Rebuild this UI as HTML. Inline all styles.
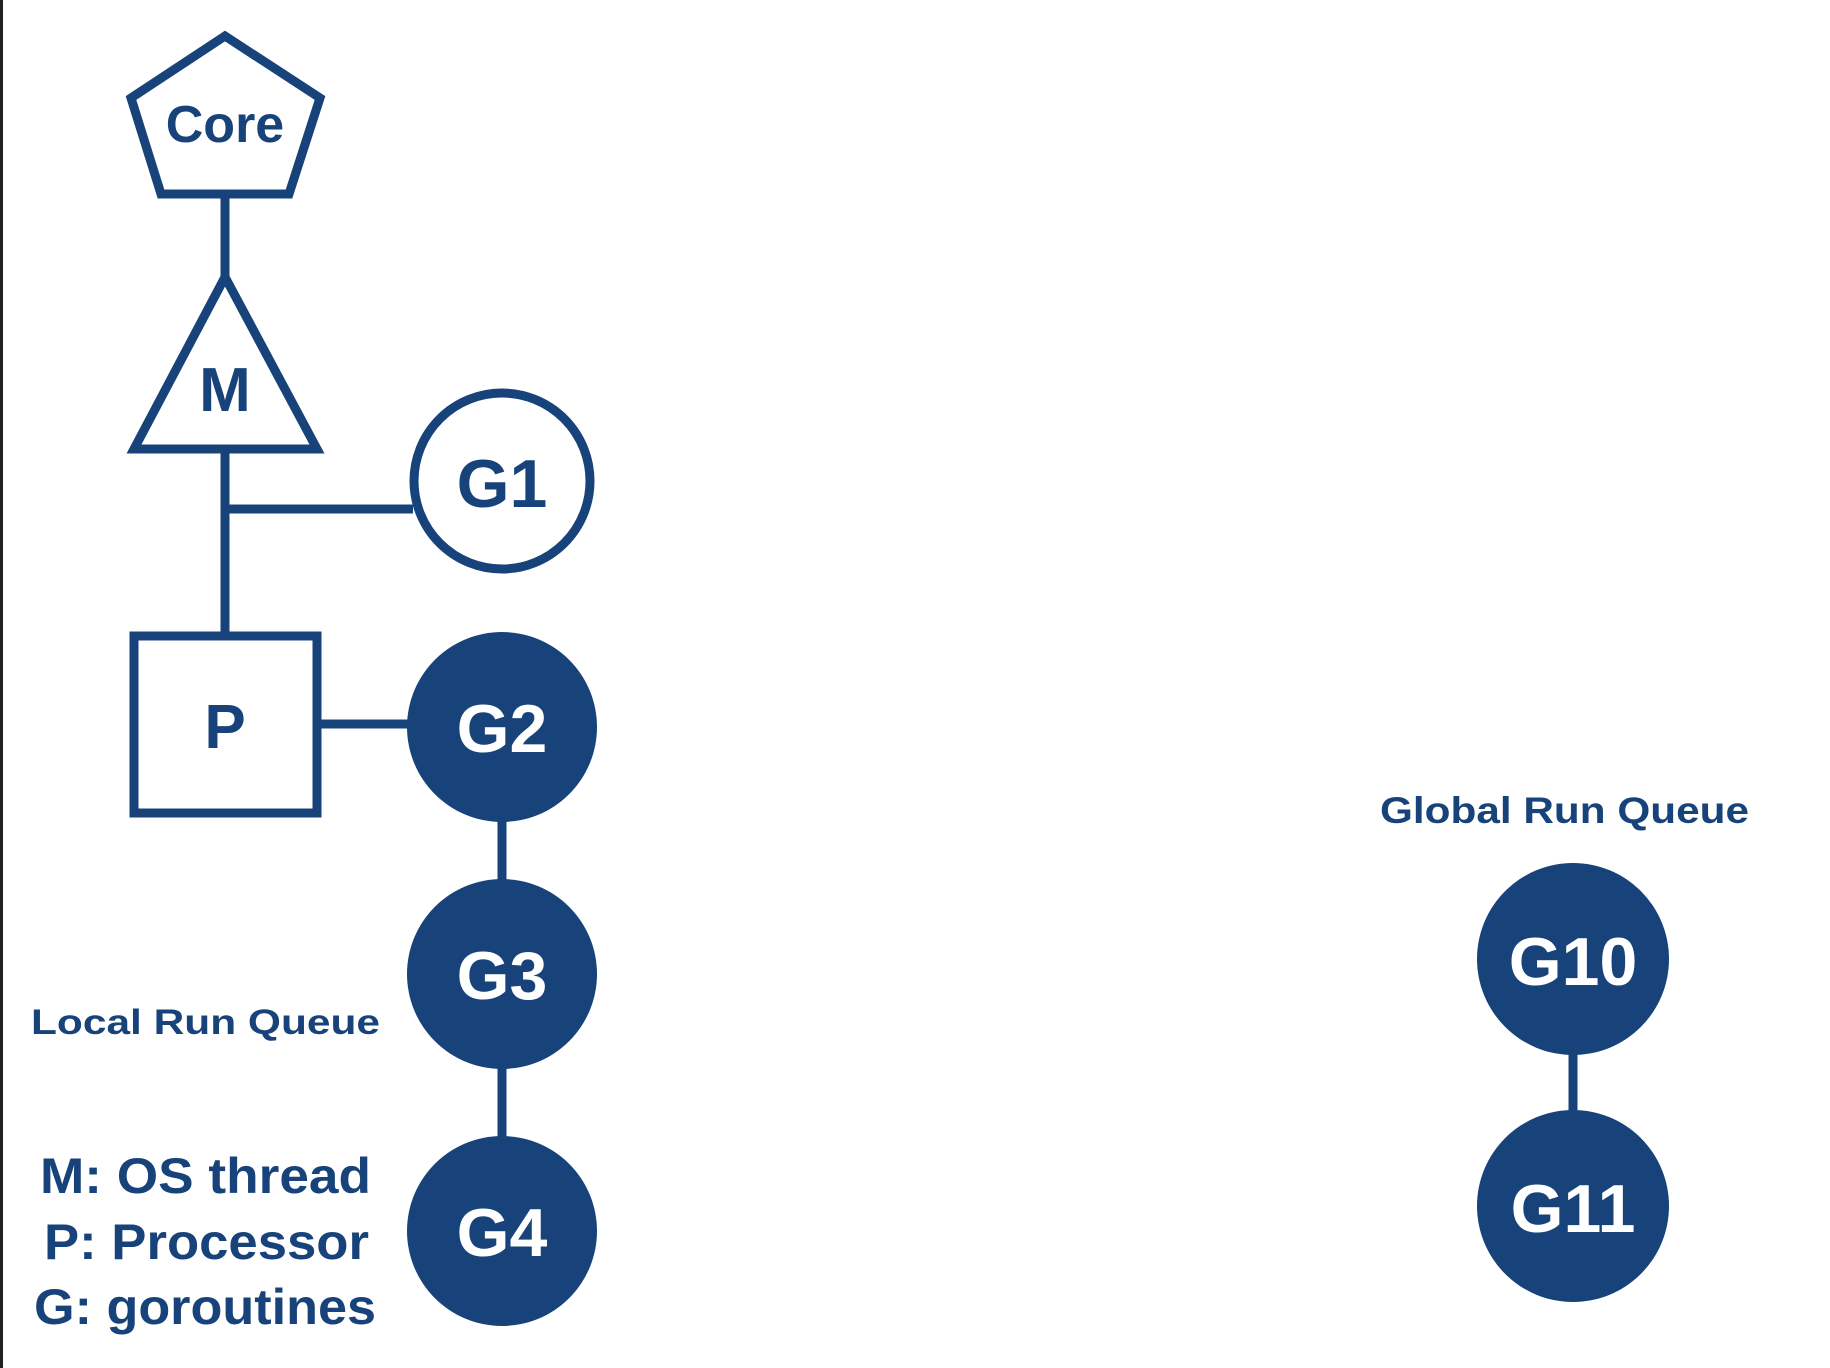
<!DOCTYPE html>
<html><head><style>
html,body{margin:0;padding:0;background:#fff;}
svg{display:block;}
text{font-family:"Liberation Sans",Arial,sans-serif;font-weight:bold;}
</style></head><body>
<svg width="1830" height="1368" viewBox="0 0 1830 1368" xmlns="http://www.w3.org/2000/svg">
<rect x="0" y="0" width="1830" height="1368" fill="#fff"/>
<rect x="0" y="0" width="3" height="1368" fill="#222"/>
<g stroke="#17437a" stroke-width="9" fill="none">
  <polygon points="225,36 131,98 161,194 289,194 320,98" stroke-linejoin="miter"/>
  <line x1="225" y1="194" x2="225" y2="276"/>
  <polygon points="225,277 134,449 317,449"/>
  <line x1="225" y1="449" x2="225" y2="636"/>
  <line x1="225" y1="509" x2="413" y2="509"/>
  <circle cx="502" cy="481" r="88"/>
  <rect x="134" y="636" width="183" height="177"/>
  <line x1="317" y1="724" x2="412" y2="724"/>
  <line x1="502" y1="800" x2="502" y2="900"/>
  <line x1="502" y1="1050" x2="502" y2="1160"/>
  <line x1="1573" y1="1040" x2="1573" y2="1130"/>
</g>
<g fill="#17437a">
  <circle cx="502" cy="727" r="95"/>
  <circle cx="502" cy="974" r="95"/>
  <circle cx="502" cy="1231" r="95"/>
  <circle cx="1573" cy="959" r="96"/>
  <circle cx="1573" cy="1206" r="96"/>
</g>
<g fill="#17437a" text-anchor="middle">
  <text x="225" y="142" font-size="52">Core</text>
  <text x="225" y="411" font-size="62">M</text>
  <text x="502" y="507" font-size="68">G1</text>
  <text x="225" y="748" font-size="62">P</text>
</g>
<g fill="#fff" text-anchor="middle" font-size="68">
  <text x="502" y="752">G2</text>
  <text x="502" y="999">G3</text>
  <text x="502" y="1256">G4</text>
  <text x="1573" y="985">G10</text>
  <text x="1573" y="1232">G11</text>
</g>
<g fill="#17437a">
  <text x="31" y="1034" font-size="35" textLength="349" lengthAdjust="spacingAndGlyphs">Local Run Queue</text>
  <text x="1380" y="823" font-size="37" textLength="369" lengthAdjust="spacingAndGlyphs">Global Run Queue</text>
  <text x="40" y="1193" font-size="50" textLength="331" lengthAdjust="spacingAndGlyphs">M: OS thread</text>
  <text x="44" y="1259" font-size="50" textLength="325" lengthAdjust="spacingAndGlyphs">P: Processor</text>
  <text x="34" y="1324" font-size="50" textLength="342" lengthAdjust="spacingAndGlyphs">G: goroutines</text>
</g>
</svg>
</body></html>
